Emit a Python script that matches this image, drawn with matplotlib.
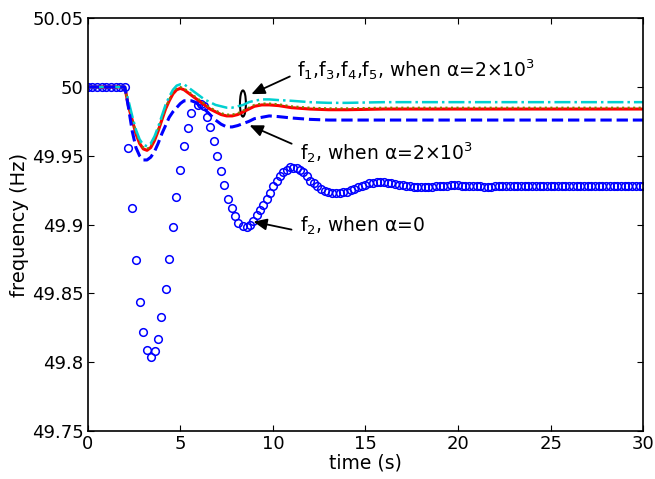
import numpy as np
import matplotlib.pyplot as plt
from matplotlib.patches import Ellipse

plt.rcParams['font.family'] = ['DejaVu Sans']
plt.rcParams['mathtext.fontset'] = 'dejavusans'

# f2 with alpha = 0 (sampled points, drawn as circles)
t_f2a0 = [0.0, 0.25, 0.5, 0.75, 1.0, 1.25, 1.5, 1.75, 2.0,
          2.18, 2.40, 2.58, 2.81, 2.99, 3.21, 3.39, 3.62, 3.80, 3.98,
          4.20, 4.38, 4.58, 4.79, 4.97, 5.19, 5.39, 5.60, 5.93, 6.14,
          6.29, 6.45, 6.60, 6.80, 7.00, 7.20, 7.38, 7.58, 7.77, 7.95,
          8.12, 8.36, 8.58, 8.76, 8.94, 9.12, 9.30, 9.48, 9.66, 9.84,
          10.02, 10.20, 10.38, 10.56, 10.74, 10.92, 11.10, 11.28, 11.46,
          11.64, 11.82, 12.00]
f_f2a0 = [50.0, 50.0, 50.0, 50.0, 50.0, 50.0, 50.0, 50.0, 50.0,
          49.9555, 49.912, 49.874, 49.844, 49.822, 49.809, 49.804, 49.808, 49.817, 49.833,
          49.853, 49.875, 49.898, 49.920, 49.940, 49.957, 49.970, 49.981, 49.987, 49.988,
          49.986, 49.978, 49.971, 49.961, 49.950, 49.939, 49.929, 49.919, 49.912, 49.906,
          49.901, 49.899, 49.898, 49.900, 49.903, 49.907, 49.911, 49.914, 49.919, 49.923,
          49.928, 49.932, 49.935, 49.938, 49.940, 49.942, 49.941, 49.941, 49.940,
          49.938, 49.935, 49.932]
t_tail = np.round(np.arange(12.2, 30.01, 0.2), 1)
f_tail = [49.930, 49.928, 49.926, 49.9245, 49.9235, 49.923, 49.9228, 49.923, 49.9235, 49.924,
          49.925, 49.926, 49.927, 49.928, 49.929, 49.930, 49.9305, 49.931, 49.931, 49.931,
          49.9305, 49.930, 49.9295, 49.929, 49.9285, 49.928, 49.9278, 49.9275, 49.9273, 49.9272,
          49.9272, 49.9273, 49.9275, 49.9278, 49.928, 49.9282, 49.9284, 49.9285, 49.9285, 49.9285,
          49.9284, 49.9283, 49.9281, 49.928, 49.9279, 49.9278, 49.9277, 49.9277, 49.9277, 49.9278,
          49.9278, 49.9279, 49.928, 49.928, 49.928, 49.928, 49.928, 49.928, 49.928, 49.928,
          49.928, 49.928, 49.928, 49.928, 49.928, 49.928, 49.928, 49.928, 49.928, 49.928,
          49.928, 49.928, 49.928, 49.928, 49.928, 49.928, 49.928, 49.928, 49.928, 49.928,
          49.928, 49.928, 49.928, 49.928, 49.928, 49.928, 49.928, 49.928, 49.928, 49.928]

# alpha = 2x10^3 curves
t = [0, 2.0, 2.2, 2.4, 2.6, 2.8, 3.0, 3.2, 3.4, 3.6, 3.8, 4.0, 4.2, 4.4, 4.6, 4.8,
     5.0, 5.2, 5.4, 5.6, 5.8, 6.0, 6.3, 6.6, 6.9, 7.2, 7.5, 7.8, 8.1, 8.4, 8.7,
     9.0, 9.4, 9.8, 10.3, 11, 12, 13, 14, 16, 18, 20, 25, 30]
f1 = [50.000, 50.000, 49.986, 49.976, 49.966, 49.959, 49.955, 49.954, 49.956, 49.961, 49.968,
      49.976, 49.984, 49.990, 49.995, 49.998, 49.999, 49.998, 49.996, 49.994, 49.992, 49.990,
      49.987, 49.984, 49.982, 49.980, 49.979, 49.979, 49.980, 49.982, 49.984, 49.986, 49.987,
      49.987, 49.9865, 49.985, 49.984, 49.9835, 49.9835, 49.984, 49.984, 49.984, 49.984, 49.984]
f3 = [50.000, 50.000, 49.987, 49.977, 49.967, 49.960, 49.956, 49.955, 49.957, 49.962, 49.969,
      49.977, 49.985, 49.991, 49.996, 49.999, 50.000, 49.999, 49.997, 49.995, 49.993, 49.991,
      49.988, 49.985, 49.983, 49.981, 49.980, 49.980, 49.981, 49.983, 49.985, 49.987, 49.988,
      49.988, 49.9875, 49.986, 49.985, 49.9845, 49.9845, 49.985, 49.985, 49.985, 49.985, 49.985]
f4 = [50.000, 50.000, 49.990, 49.979, 49.969, 49.962, 49.958, 49.957, 49.959, 49.964, 49.971,
      49.979, 49.987, 49.993, 49.998, 50.001, 50.002, 50.002, 50.000, 49.998, 49.996, 49.994,
      49.991, 49.989, 49.987, 49.986, 49.985, 49.985, 49.986, 49.987, 49.989, 49.990, 49.991,
      49.991, 49.9905, 49.990, 49.989, 49.9885, 49.9885, 49.989, 49.989, 49.989, 49.989, 49.989]
f2 = [50.000, 50.000, 49.985, 49.968, 49.956, 49.950, 49.947, 49.947, 49.949, 49.953, 49.959,
      49.966, 49.972, 49.978, 49.982, 49.985, 49.988, 49.990, 49.990, 49.990, 49.989, 49.987,
      49.984, 49.980, 49.976, 49.973, 49.971, 49.971, 49.972, 49.9735, 49.975, 49.977, 49.978,
      49.979, 49.9785, 49.9775, 49.9765, 49.976, 49.976, 49.976, 49.976, 49.976, 49.976, 49.976]

fig = plt.figure(figsize=(6.55, 4.79), dpi=100)
ax = fig.add_axes([0.134, 0.100, 0.848, 0.862])

ax.plot(t_f2a0 + list(t_tail), f_f2a0 + f_tail, 'o', mfc='none', mec='#0000ff',
        ms=5.5, mew=1.1)
ax.plot(t, f1, '-', color='#ff0000', lw=2.2)
ax.plot(t, f3, ':', color='#808000', lw=1.5)
ax.plot(t, f4, '-.', color='#00d0d0', lw=1.8)
ax.plot(t, f2, '--', color='#0000ff', lw=2.2)

ax.add_patch(Ellipse((8.38, 49.988), 0.32, 0.019, fill=False, ec='k', lw=1.5))

arrow = dict(arrowstyle='-|>,head_length=0.8,head_width=0.35', color='k', lw=1.3)
ax.annotate('', xy=(8.7, 49.994), xytext=(11.05, 50.0085), arrowprops=arrow)
ax.annotate('', xy=(8.6, 49.973), xytext=(11.15, 49.958), arrowprops=arrow)
ax.annotate('', xy=(8.8, 49.9026), xytext=(11.15, 49.896), arrowprops=arrow)

ax.text(11.3, 50.013, 'f$_1$,f$_3$,f$_4$,f$_5$, when \u03b1=2\u00d710$^3$',
        fontsize=13.5, va='center')
ax.text(11.45, 49.952, 'f$_2$, when \u03b1=2\u00d710$^3$',
        fontsize=13.5, va='center')
ax.text(11.45, 49.899, 'f$_2$, when \u03b1=0',
        fontsize=13.5, va='center')

ax.set_xlim(0, 30)
ax.set_ylim(49.75, 50.05)
ax.set_xticks([0, 5, 10, 15, 20, 25, 30])
ax.set_yticks([49.75, 49.8, 49.85, 49.9, 49.95, 50.0, 50.05])
ax.set_yticklabels(['49.75', '49.8', '49.85', '49.9', '49.95', '50', '50.05'])
ax.tick_params(direction='in', top=True, right=True, labelsize=13, length=4, pad=3)
ax.set_xlabel('time (s)', fontsize=13.5, labelpad=0)
ax.set_ylabel('frequency (Hz)', fontsize=14, labelpad=2)
for s in ax.spines.values():
    s.set_linewidth(1.2)

fig.savefig('out.png', dpi=100)
